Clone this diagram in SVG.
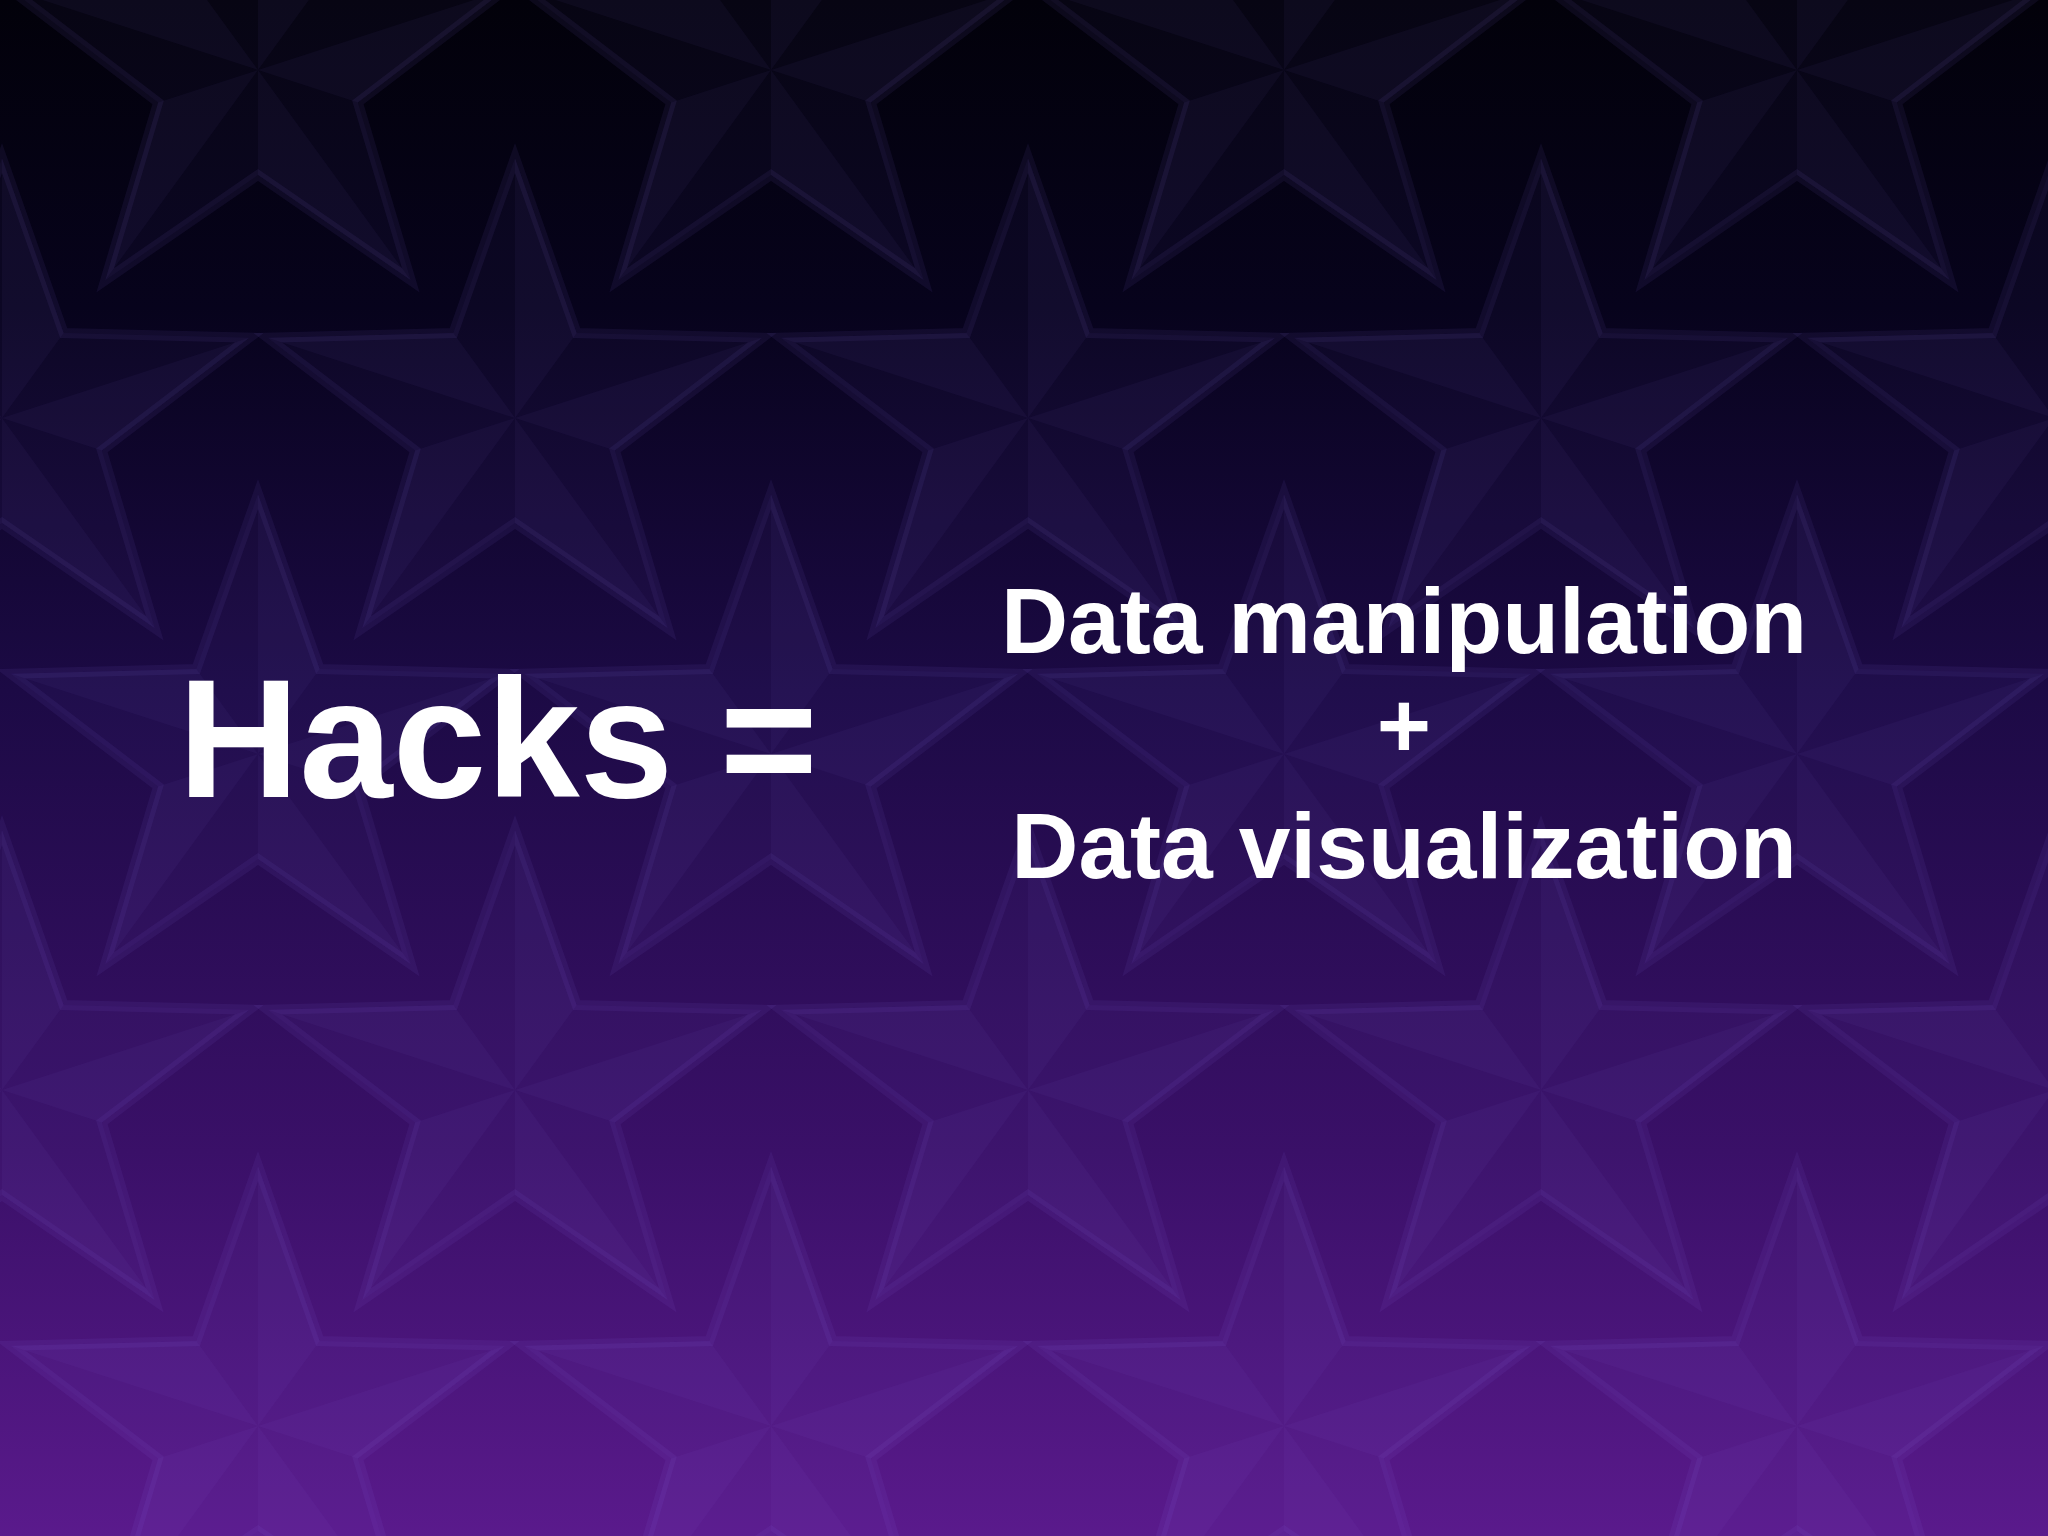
<svg xmlns="http://www.w3.org/2000/svg" xmlns:xlink="http://www.w3.org/1999/xlink" width="2048" height="1536" viewBox="0 0 2048 1536">
<defs>
<linearGradient id="bg" x1="0" y1="0" x2="0" y2="1">
<stop offset="0" stop-color="#02010a"/>
<stop offset="0.2" stop-color="#07031c"/>
<stop offset="0.45" stop-color="#1c0a45"/>
<stop offset="0.75" stop-color="#3a1068"/>
<stop offset="1" stop-color="#5a1a8c"/>
</linearGradient>
<g id="star">
<path d="M0,-260 L61.7,-84.9 L247.3,-80.3 L99.9,32.4 L152.8,210.3 L0,105 L-152.8,210.3 L-99.9,32.4 L-247.3,-80.3 L-61.7,-84.9 Z" fill="#9a80ff" fill-opacity="0.04" stroke="#9a80ff" stroke-opacity="0.07" stroke-width="10"/>
<path d="M0,0 L0,-260 L61.7,-84.9 Z M0,0 L247.3,-80.3 L99.9,32.4 Z M0,0 L152.8,210.3 L0,105 Z M0,0 L-152.8,210.3 L-99.9,32.4 Z M0,0 L-247.3,-80.3 L-61.7,-84.9 Z" fill="#9a80ff" fill-opacity="0.045"/>
</g>
<style>
.t{font-family:"Liberation Sans",Arial,sans-serif;font-weight:bold;fill:#ffffff}
</style>
</defs>
<rect width="2048" height="1536" fill="url(#bg)"/>
<g id="stars">
<use xlink:href="#star" x="258" y="70"/><use xlink:href="#star" x="771" y="70"/><use xlink:href="#star" x="1284" y="70"/><use xlink:href="#star" x="1797" y="70"/>
<use xlink:href="#star" x="2" y="418"/><use xlink:href="#star" x="515" y="418"/><use xlink:href="#star" x="1028" y="418"/><use xlink:href="#star" x="1541" y="418"/><use xlink:href="#star" x="2054" y="418"/>
<use xlink:href="#star" x="258" y="754"/><use xlink:href="#star" x="771" y="754"/><use xlink:href="#star" x="1284" y="754"/><use xlink:href="#star" x="1797" y="754"/>
<use xlink:href="#star" x="2" y="1090"/><use xlink:href="#star" x="515" y="1090"/><use xlink:href="#star" x="1028" y="1090"/><use xlink:href="#star" x="1541" y="1090"/><use xlink:href="#star" x="2054" y="1090"/>
<use xlink:href="#star" x="258" y="1426"/><use xlink:href="#star" x="771" y="1426"/><use xlink:href="#star" x="1284" y="1426"/><use xlink:href="#star" x="1797" y="1426"/>
</g>
<g id="title"><text class="t" x="178" y="797" font-size="168">Hacks =</text></g>
<g id="formula">
<text class="t" x="1404" y="653" font-size="93" text-anchor="middle">Data manipulation</text>
<text class="t" x="1404" y="757" font-size="93" text-anchor="middle">+</text>
<text class="t" x="1404" y="878" font-size="93" text-anchor="middle">Data visualization</text>
</g>
</svg>
